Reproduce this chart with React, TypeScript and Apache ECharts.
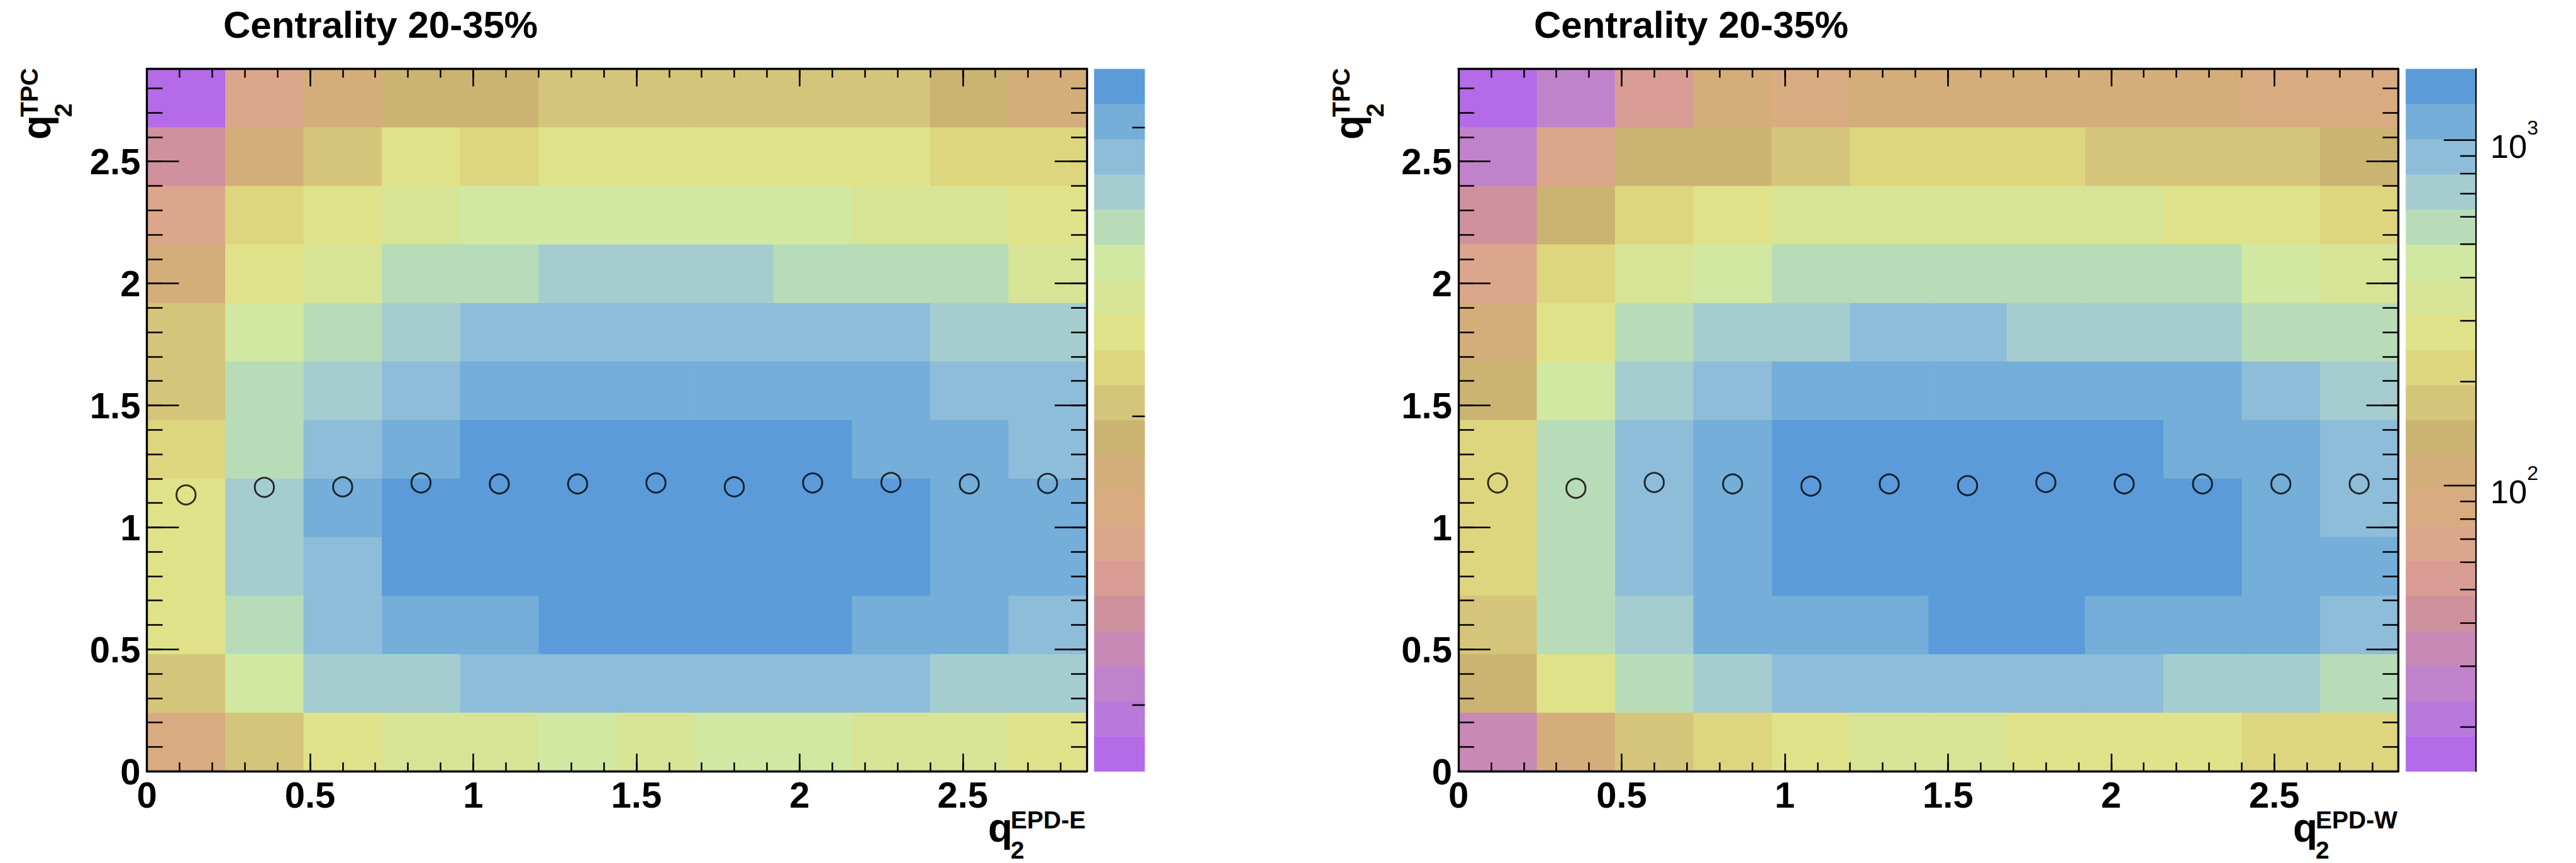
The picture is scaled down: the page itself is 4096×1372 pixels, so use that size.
import React, { useEffect, useRef } from "react";
import * as echarts from "echarts";

// ---------------- data ----------------
const binEdges = [0, 0.24, 0.48, 0.72, 0.96, 1.2, 1.44, 1.68, 1.92, 2.16, 2.4, 2.64, 2.88];
const axisMax = 2.88;

// counts per cell, rows listed from top (q2TPC 2.64-2.88) to bottom (0-0.24), columns q2EPD 0 -> 2.88
const countsEast: number[][] = [
  [7, 36, 64, 85, 85, 112, 112, 112, 112, 112, 85, 64],
  [21, 64, 112, 196, 148, 196, 196, 196, 196, 196, 148, 148],
  [36, 148, 196, 260, 340, 340, 340, 340, 340, 260, 260, 196],
  [64, 196, 260, 450, 450, 600, 600, 600, 450, 450, 450, 260],
  [112, 340, 450, 600, 790, 790, 790, 790, 790, 790, 600, 600],
  [112, 450, 600, 790, 1050, 1050, 1050, 1050, 1050, 1050, 790, 790],
  [148, 450, 790, 1050, 1390, 1390, 1390, 1390, 1390, 1050, 1050, 790],
  [196, 600, 1050, 1390, 1390, 1390, 1390, 1390, 1390, 1390, 1050, 1050],
  [196, 600, 790, 1390, 1390, 1390, 1390, 1390, 1390, 1390, 1050, 1050],
  [196, 450, 790, 1050, 1050, 1390, 1390, 1390, 1390, 1050, 1050, 790],
  [112, 340, 600, 600, 790, 790, 790, 790, 790, 790, 600, 600],
  [48, 112, 196, 260, 260, 340, 260, 340, 340, 260, 260, 196],
];

const countsWest: number[][] = [
  [17, 27, 54, 109, 86, 109, 109, 109, 109, 109, 86, 86],
  [27, 68, 138, 138, 174, 220, 220, 220, 174, 174, 174, 138],
  [43, 138, 220, 278, 350, 350, 350, 350, 350, 278, 278, 220],
  [68, 220, 350, 444, 560, 560, 560, 560, 560, 560, 444, 350],
  [109, 278, 560, 710, 710, 900, 900, 710, 710, 710, 560, 560],
  [138, 444, 710, 900, 1130, 1130, 1130, 1130, 1130, 1130, 900, 710],
  [220, 560, 900, 1130, 1430, 1430, 1430, 1430, 1430, 1130, 1130, 900],
  [220, 560, 900, 1130, 1430, 1430, 1430, 1430, 1430, 1430, 1130, 900],
  [220, 560, 900, 1130, 1430, 1430, 1430, 1430, 1430, 1430, 1130, 1130],
  [174, 560, 710, 1130, 1130, 1130, 1430, 1430, 1130, 1130, 1130, 900],
  [138, 278, 560, 710, 900, 900, 900, 900, 900, 710, 710, 560],
  [34, 109, 174, 220, 278, 350, 350, 278, 278, 278, 220, 220],
];

const profileX = [0.12, 0.36, 0.6, 0.84, 1.08, 1.32, 1.56, 1.8, 2.04, 2.28, 2.52, 2.76];
const profileEast = [1.133, 1.164, 1.166, 1.182, 1.178, 1.178, 1.182, 1.166, 1.182, 1.184, 1.178, 1.18];
const profileWest = [1.182, 1.16, 1.184, 1.178, 1.169, 1.178, 1.171, 1.184, 1.178, 1.178, 1.178, 1.178];

const zRangeEast = [5.9, 1598];
const zRangeWest = [14.9, 1609];

// palette, lowest -> highest
const paletteColors = [
  "#b56ae7", "#b978dc", "#c182cc", "#c889b6", "#d0919e", "#d89c95", "#dca68c", "#d9ab81",
  "#d3ae7a", "#cbb372", "#d5c57a", "#ddd67f", "#e0e28a", "#d7e495", "#d0e8a1", "#b9dcb8",
  "#a5cdcf", "#8ebdda", "#74aed9", "#5b9bd9",
];

const cbTicksEast = [10, 100, 1000];
const cbMajorWest = [100, 1000];
const cbMinorWest = [20, 30, 40, 50, 60, 70, 80, 90, 200, 300, 400, 500, 600, 700, 800, 900];

const titleText = "Centrality 20-35%";
const xTitleSups = ["EPD-E", "EPD-W"];
const yTitleSup = "TPC";

// ---------------- layout ----------------
const FONT = '"Liberation Sans", Helvetica, Arial, sans-serif';
const PLOT_TOP = 109.4;
const PLOT_H = 1116.7;
const PLOT_W = 1494.5;
const panels = [
  { plotLeft: 233.5, cbLeft: 1739.7, cbW: 80.7, counts: countsEast, prof: profileEast, zr: zRangeEast, titleX: 355, qX: 1571, yTitleX: 80.7, sup: xTitleSups[0], cbLabels: false },
  { plotLeft: 2319, cbLeft: 3825.3, cbW: 111.5, counts: countsWest, prof: profileWest, zr: zRangeWest, titleX: 2439, qX: 3646, yTitleX: 2167.4, sup: xTitleSups[1], cbLabels: true },
];

function colorFor(z: number, zr: number[]) {
  const f = Math.log(z / zr[0]) / Math.log(zr[1] / zr[0]);
  const i = Math.floor(f * paletteColors.length);
  return paletteColors[Math.max(0, Math.min(paletteColors.length - 1, i))];
}

function cellData(counts: number[][]) {
  const out: number[][] = [];
  const n = counts.length;
  counts.forEach((row, r) => {
    const yb = n - 1 - r;
    row.forEach((z, c) => out.push([binEdges[c], binEdges[c + 1], binEdges[yb], binEdges[yb + 1], z]));
  });
  return out;
}

function valueAxis(grid: number, pos: string, interval: number, tickLen: number, showLine: boolean, showLabel: boolean, margin: number) {
  return {
    type: "value",
    gridIndex: grid,
    position: pos,
    min: 0,
    max: axisMax,
    interval,
    z: 10,
    axisLine: { show: showLine, onZero: false, lineStyle: { color: "#000", width: 3.3 } },
    axisTick: { show: true, inside: true, length: tickLen, lineStyle: { color: "#000", width: 2.5 } },
    axisLabel: {
      show: showLabel,
      margin,
      fontSize: 58,
      fontWeight: "bold",
      fontFamily: FONT,
      color: "#000",
      showMaxLabel: false,
      showMinLabel: true,
    },
    splitLine: { show: false },
    minorTick: { show: false },
  };
}

function buildOption() {
  const grids: any[] = [];
  const xAxes: any[] = [];
  const yAxes: any[] = [];
  const series: any[] = [];
  const graphics: any[] = [];

  panels.forEach((p, pi) => {
    const gMain = pi * 3;
    const gMinor = pi * 3 + 1;
    const gCb = pi * 3 + 2;
    const base = pi * 5;
    const rect = { left: p.plotLeft, top: PLOT_TOP, width: PLOT_W, height: PLOT_H };
    grids.push({ ...rect, show: false, containLabel: false, outerBoundsMode: "none" });
    grids.push({ ...rect, show: false, containLabel: false, outerBoundsMode: "none" });
    grids.push({ left: p.cbLeft, top: PLOT_TOP, width: p.cbW, height: PLOT_H, show: false, containLabel: false, outerBoundsMode: "none" });

    // main axes
    xAxes.push(valueAxis(gMain, "bottom", 0.5, 28, true, true, 8));
    xAxes.push(valueAxis(gMain, "top", 0.5, 28, true, false, 8));
    xAxes.push(valueAxis(gMinor, "bottom", 0.1, 14, false, false, 8));
    xAxes.push(valueAxis(gMinor, "top", 0.1, 14, false, false, 8));
    xAxes.push({ type: "value", gridIndex: gCb, min: 0, max: 1, show: false });

    yAxes.push(valueAxis(gMain, "left", 0.5, 51, true, true, 10));
    yAxes.push(valueAxis(gMain, "right", 0.5, 51, true, false, 10));
    yAxes.push(valueAxis(gMinor, "left", 0.1, 25, false, false, 10));
    yAxes.push(valueAxis(gMinor, "right", 0.1, 25, false, false, 10));
    yAxes.push({
      type: "log",
      logBase: 10,
      gridIndex: gCb,
      position: "right",
      min: p.zr[0],
      max: p.zr[1],
      show: p.cbLabels,
      z: 10,
      axisLine: { show: true, onZero: false, lineStyle: { color: "#000", width: 2.2 } },
      axisTick: { show: false },
      splitLine: { show: false },
      minorTick: { show: false },
      axisLabel: {
        show: true,
        margin: 23,
        color: "#000",
        fontFamily: FONT,
        showMinLabel: false,
        showMaxLabel: false,
        formatter: (v: number) => {
          const e = Math.log10(v);
          const r = Math.round(e);
          return Math.abs(e - r) < 1e-6 ? `{b|10}{s|${r}}` : "";
        },
        rich: {
          b: { fontSize: 52.5, lineHeight: 72, fontFamily: FONT, color: "#000", verticalAlign: "bottom" },
          s: { fontSize: 32, lineHeight: 32, fontFamily: FONT, color: "#000", verticalAlign: "top" },
        },
      },
    });

    const zr = p.zr;
    // heat cells
    series.push({
      type: "custom",
      xAxisIndex: base,
      yAxisIndex: base,
      silent: true,
      z: 1,
      data: cellData(p.counts),
      encode: { x: [0, 1], y: [2, 3] },
      renderItem: (params: any, api: any) => {
        const p0 = api.coord([api.value(0), api.value(2)]);
        const p1 = api.coord([api.value(1), api.value(3)]);
        return {
          type: "rect",
          shape: { x: p0[0], y: p1[1], width: p1[0] - p0[0] + 0.6, height: p0[1] - p1[1] + 0.6 },
          style: { fill: colorFor(api.value(4), zr), stroke: null },
        };
      },
    });
    // profile markers
    series.push({
      type: "scatter",
      xAxisIndex: base,
      yAxisIndex: base,
      silent: true,
      z: 5,
      symbol: "circle",
      symbolSize: 30.5,
      itemStyle: { color: "rgba(0,0,0,0)", borderColor: "#000", borderWidth: 2.9 },
      data: profileX.map((x, i) => [x, p.prof[i]]),
    });
    // colour bar bands
    const n = paletteColors.length;
    const ratio = zr[1] / zr[0];
    series.push({
      type: "custom",
      xAxisIndex: base + 4,
      yAxisIndex: base + 4,
      silent: true,
      z: 1,
      data: paletteColors.map((_, i) => [0, zr[0] * Math.pow(ratio, i / n), 1, zr[0] * Math.pow(ratio, (i + 1) / n)]),
      encode: { x: [0, 2], y: [1, 3] },
      renderItem: (params: any, api: any) => {
        const a = api.coord([api.value(0), api.value(1)]);
        const b = api.coord([api.value(2), api.value(3)]);
        return {
          type: "rect",
          shape: { x: a[0], y: b[1], width: b[0] - a[0], height: a[1] - b[1] + 0.6 },
          style: { fill: paletteColors[params.dataIndex], stroke: null },
        };
      },
    });
    // colour bar ticks
    const tickData = p.cbLabels
      ? [...cbMajorWest.map((v) => [1, v, 51]), ...cbMinorWest.map((v) => [1, v, 25])]
      : cbTicksEast.map((v) => [1, v, 20]);
    series.push({
      type: "custom",
      xAxisIndex: base + 4,
      yAxisIndex: base + 4,
      silent: true,
      z: 6,
      data: tickData,
      encode: { x: 0, y: 1 },
      renderItem: (params: any, api: any) => {
        const pt = api.coord([api.value(0), api.value(1)]);
        const len = api.value(2);
        return {
          type: "line",
          shape: { x1: pt[0] - len, y1: pt[1], x2: pt[0], y2: pt[1] },
          style: { stroke: "#000", lineWidth: 2.5 },
        };
      },
    });

    // title
    graphics.push({
      type: "text",
      x: p.titleX,
      y: 39,
      silent: true,
      style: { text: titleText, fontSize: 60, fontWeight: "bold", fontFamily: FONT, fill: "#000", align: "left", verticalAlign: "middle" },
    });
    // x-axis title
    const qY = 1338;
    graphics.push({
      type: "text", x: p.qX, y: qY - 22.4, silent: true,
      style: { text: "q", fontSize: 64, fontWeight: "bold", fontFamily: FONT, fill: "#000", align: "left", verticalAlign: "middle" },
    });
    graphics.push({
      type: "text", x: p.qX + 36, y: qY - 20.8 - 13.7, silent: true,
      style: { text: p.sup, fontSize: 39, fontWeight: "bold", fontFamily: FONT, fill: "#000", align: "left", verticalAlign: "middle" },
    });
    graphics.push({
      type: "text", x: p.qX + 36, y: 1351.5, silent: true,
      style: { text: "2", fontSize: 39, fontWeight: "bold", fontFamily: FONT, fill: "#000", align: "left", verticalAlign: "middle" },
    });
    // y-axis title (rotated)
    graphics.push({
      type: "group",
      x: p.yTitleX,
      y: 222,
      rotation: Math.PI / 2,
      silent: true,
      children: [
        { type: "text", x: 0, y: -22.4, style: { text: "q", fontSize: 64, fontWeight: "bold", fontFamily: FONT, fill: "#000", align: "left", verticalAlign: "middle" } },
        { type: "text", x: 36, y: -20.8 - 13.7, style: { text: yTitleSup, fontSize: 39, fontWeight: "bold", fontFamily: FONT, fill: "#000", align: "left", verticalAlign: "middle" } },
        { type: "text", x: 36, y: 33 - 13.7, style: { text: "2", fontSize: 39, fontWeight: "bold", fontFamily: FONT, fill: "#000", align: "left", verticalAlign: "middle" } },
      ],
    });
  });

  return {
    animation: false,
    backgroundColor: "#ffffff",
    grid: grids,
    xAxis: xAxes,
    yAxis: yAxes,
    series,
    graphic: { elements: graphics },
  };
}

export default function App() {
  const ref = useRef<HTMLDivElement>(null);
  useEffect(() => {
    if (!ref.current) return;
    const chart = echarts.init(ref.current, undefined, { renderer: "svg" });
    chart.setOption(buildOption() as any);
    return () => chart.dispose();
  }, []);
  return (
    <div
      ref={ref}
      style={{ position: "fixed", left: 0, top: 0, width: 4096, height: 1372, background: "#fff" }}
    />
  );
}
